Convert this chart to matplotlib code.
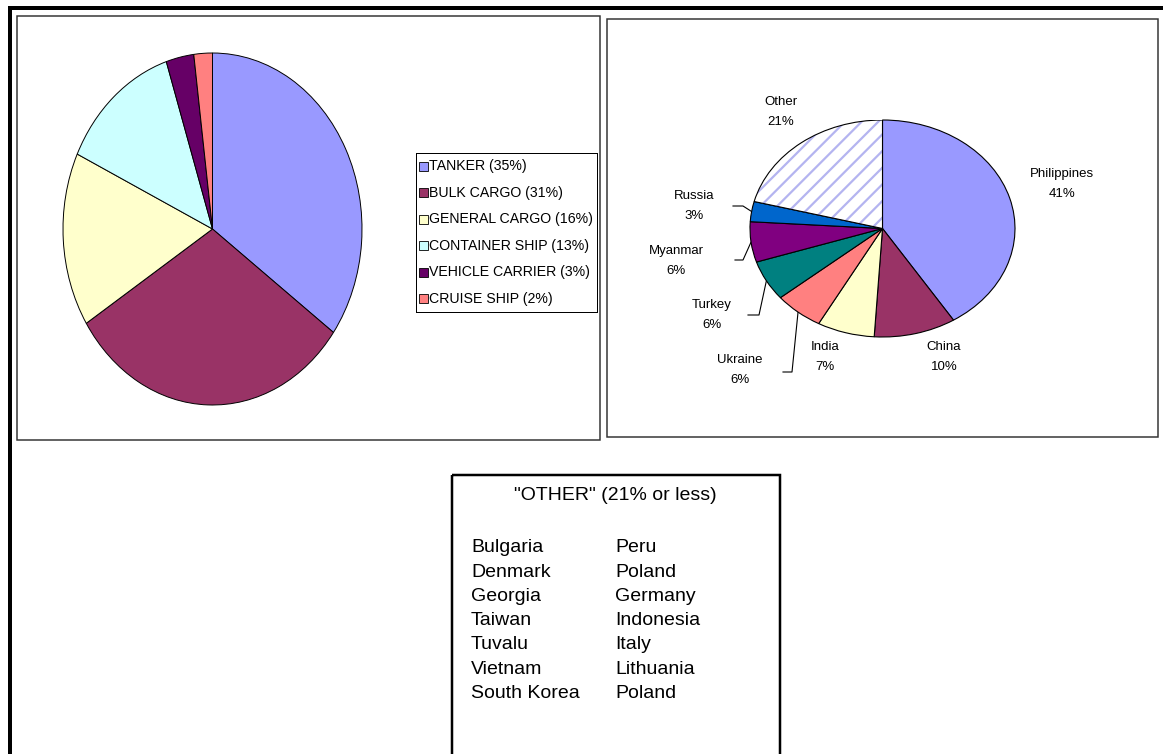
import numpy as np
import matplotlib
matplotlib.use('Agg')
import matplotlib.pyplot as plt
from matplotlib.patches import Rectangle, Wedge

plt.rcParams['font.family'] = ['Liberation Sans', 'DejaVu Sans']
plt.rcParams['hatch.linewidth'] = 1.6

W, H = 1163, 754

vessel_types = ['TANKER', 'BULK CARGO', 'GENERAL CARGO', 'CONTAINER SHIP',
                'VEHICLE CARRIER', 'CRUISE SHIP']
vessel_share = [35, 31, 16, 13, 3, 2]
vessel_colors = ['#9999FF', '#993366', '#FFFFCC', '#CCFFFF', '#660066', '#FF8080']

crew_countries = ['Philippines', 'China', 'India', 'Ukraine', 'Turkey',
                  'Myanmar', 'Russia', 'Other']
crew_share = [41, 10, 7, 6, 6, 6, 3, 21]
crew_colors = ['#9999FF', '#993366', '#FFFFCC', '#FF8080', '#008080',
               '#800080', '#0066CC', 'white']

other_col1 = ['Bulgaria', 'Denmark', 'Georgia', 'Taiwan', 'Tuvalu',
              'Vietnam', 'South Korea']
other_col2 = ['Peru', 'Poland', 'Germany', 'Indonesia', 'Italy',
              'Lithuania', 'Poland']

PX = 0.72  # points per pixel at dpi 100

fig = plt.figure(figsize=(W / 100, H / 100), dpi=100)


def px_axes(x0, y0, x1, y1, **kw):
    return fig.add_axes([x0 / W, 1 - y1 / H, (x1 - x0) / W, (y1 - y0) / H], **kw)


# page layer, pixel coordinates with y going down
page = px_axes(0, 0, W, H)
page.set_xlim(0, W)
page.set_ylim(H, 0)
page.axis('off')

# outer frame: top and left rules only
page.plot([10, W], [8, 8], color='black', lw=4 * PX, solid_capstyle='butt')
page.plot([10, 10], [6, H], color='black', lw=4 * PX, solid_capstyle='butt')

# the two chart panels
page.add_patch(Rectangle((17, 16), 583, 424, fill=False, ec='#333333', lw=1.5 * PX))
page.add_patch(Rectangle((607, 19), 551, 418, fill=False, ec='#333333', lw=1.5 * PX))

# box listing the "other" countries
page.add_patch(Rectangle((452, 475), 328, 320, fill=False, ec='black', lw=2.5 * PX))
page.text(615, 495, '"OTHER" (21% or less)', ha='center', va='center', fontsize=14)
for i, (a, b) in enumerate(zip(other_col1, other_col2)):
    y = 548 + 24.2 * i
    page.text(471, y, a, ha='left', va='center', fontsize=14)
    page.text(615, y, b, ha='left', va='center', fontsize=14)

# ---- vessel type pie ----
ax1 = px_axes(63, 53, 362, 405)
ax1.pie(vessel_share, colors=vessel_colors, startangle=90, counterclock=False,
        wedgeprops=dict(edgecolor='black', linewidth=0.7))
ax1.set_aspect('auto')
ax1.set_xlim(-1, 1)
ax1.set_ylim(-1, 1)
ax1.patch.set_alpha(0)

# legend box
lg = px_axes(416, 153, 597, 312)
lg.set_xlim(0, 181)
lg.set_ylim(159, 0)
lg.set_xticks([])
lg.set_yticks([])
for s in lg.spines.values():
    s.set_linewidth(1.0 * PX)
    s.set_color('black')
for i, (name, share, col) in enumerate(zip(vessel_types, vessel_share, vessel_colors)):
    y = 13.25 + 26.5 * i
    lg.add_patch(Rectangle((3, y - 4.5), 9, 9, fc=col, ec='black', lw=0.6))
    lg.text(13, y, f'{name} ({share}%)', ha='left', va='center', fontsize=10.2)

# ---- crew nationality pie ----
bx0, by0, bx1, by1 = 750, 120, 1015, 337
ax2 = px_axes(bx0, by0, bx1, by1)
wedges, _ = ax2.pie(crew_share, colors=crew_colors, startangle=90, counterclock=False,
                    wedgeprops=dict(edgecolor='black', linewidth=0.8))
ax2.set_aspect('auto')
ax2.set_xlim(-1, 1)
ax2.set_ylim(-1, 1)
ax2.patch.set_alpha(0)

# striped "Other" slice, outline drawn separately in black
other = wedges[-1]
other.set_edgecolor('#B4B4F0')
other.set_linewidth(0)
other.set_hatch('//')
ax2.add_patch(Wedge(other.center, other.r, other.theta1, other.theta2,
                    fill=False, ec='black', lw=0.8))

cx, cy = (bx0 + bx1) / 2, (by0 + by1) / 2
rx, ry = (bx1 - bx0) / 2, (by1 - by0) / 2


def rim_point(w):
    a = np.deg2rad((w.theta1 + w.theta2) / 2)
    return cx + rx * np.cos(a), cy - ry * np.sin(a)


label_pos = {
    'Philippines': (1062, 184),
    'China': (944, 357),
    'India': (825, 357),
    'Ukraine': (740, 370),
    'Turkey': (712, 315),
    'Myanmar': (676, 261),
    'Russia': (694, 206),
    'Other': (781, 112),
}
leader_elbow = {
    'Russia': ((733, 206), (743, 206)),
    'Myanmar': ((735, 260), (743, 260)),
    'Turkey': ((748, 315), (759, 315)),
    'Ukraine': ((783, 372), (792, 372)),
}

for w, name, share in zip(wedges, crew_countries, crew_share):
    x, y = label_pos[name]
    page.text(x, y, f'{name}\n{share}%', ha='center', va='center',
              fontsize=9.5, linespacing=1.8)
    if name in leader_elbow:
        (x0, y0), (x1, y1) = leader_elbow[name]
        px_, py_ = rim_point(w)
        page.plot([x0, x1, px_], [y0, y1, py_], color='black', lw=0.8)

fig.savefig('out.png', dpi=100)
